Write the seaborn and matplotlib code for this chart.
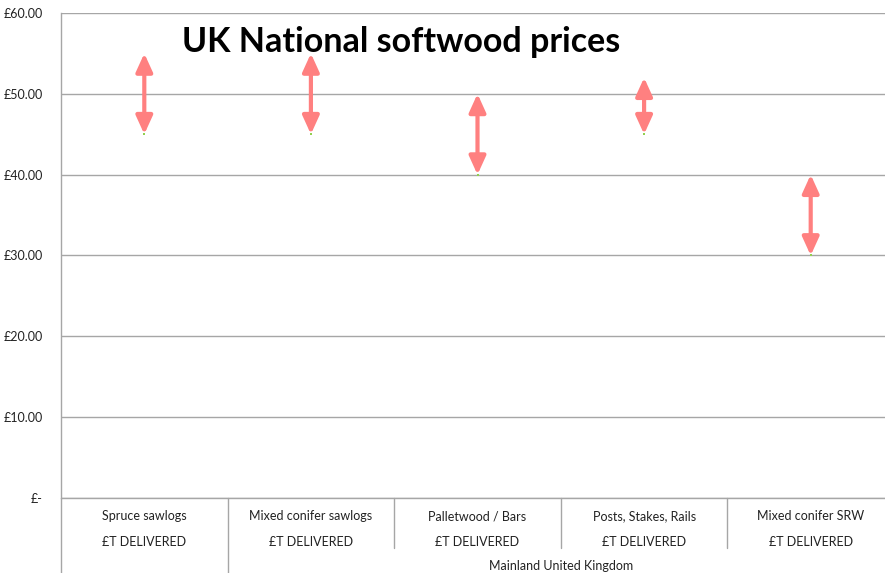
import numpy as np
import pandas as pd
import seaborn as sns
import matplotlib
matplotlib.use('Agg')
import matplotlib.pyplot as plt
from matplotlib.ticker import FuncFormatter

# data
categories = ['Spruce sawlogs', 'Mixed conifer sawlogs', 'Palletwood / Bars',
              'Posts, Stakes, Rails', 'Mixed conifer SRW']
price_low = [45, 45, 40, 45, 30]
price_high = [55, 55, 50, 52, 40]
unit_labels = ['£T DELIVERED'] * 5
region_label = 'Mainland United Kingdom'
y_ticks = [0, 10, 20, 30, 40, 50, 60]

sns.set_style('white')
plt.rcParams['font.family'] = ['Lato', 'DejaVu Sans']

df = pd.DataFrame({'cat': categories, 'pos': np.arange(len(categories)),
                   'low': price_low, 'high': price_high})

fig = plt.figure(figsize=(8.85, 5.73), dpi=100)
ax = fig.add_axes([61 / 885, 75 / 573, 833 / 885, 485 / 573])

# gridlines
ax.set_ylim(0, 60)
ax.set_xlim(-0.5, len(categories) - 0.5)
ax.set_yticks(y_ticks)
ax.yaxis.grid(True, color='#a6a6a6', lw=1)
ax.set_axisbelow(True)
for s in ['top', 'right', 'bottom']:
    ax.spines[s].set_visible(False)
ax.spines['left'].set_color('#a6a6a6')
ax.spines['left'].set_linewidth(1)

# price range arrows
for _, r in df.iterrows():
    ax.annotate('', xy=(r['pos'], r['high']), xytext=(r['pos'], r['low']),
                arrowprops=dict(arrowstyle='<|-|>,head_length=1.1,head_width=0.5',
                                lw=3, color='#ff8080', shrinkA=0, shrinkB=0,
                                mutation_scale=10))
sns.scatterplot(data=df, x='pos', y='low', ax=ax, color='#92d050', marker='s',
                s=4, linewidth=0, zorder=5, legend=False)

ax.yaxis.set_major_formatter(FuncFormatter(lambda v, p: '£-' if v == 0 else '£%.2f' % v))
ax.tick_params(axis='y', length=0, pad=13, labelsize=9, labelcolor='#222222')
ax.set_xticks([])
ax.set_xlabel('')
ax.set_ylabel('')

# multi-level category axis
xt = ax.get_xaxis_transform()
for i, (c, u) in enumerate(zip(categories, unit_labels)):
    ax.text(i, -0.038, c, transform=xt, ha='center', va='center', fontsize=9, color='#222222')
    ax.text(i, -0.091, u, transform=xt, ha='center', va='center', fontsize=9, color='#222222')
for i in range(1, len(categories)):
    bottom = -0.155 if i == 1 else -0.103
    ax.plot([i - 0.5, i - 0.5], [0, bottom], transform=xt, color='#a6a6a6', lw=1, clip_on=False)
ax.plot([-0.5, -0.5], [0, -0.155], transform=xt, color='#a6a6a6', lw=1, clip_on=False)
ax.plot([-0.5, len(categories) - 0.5], [0, 0], transform=xt, color='#a6a6a6', lw=1, clip_on=False)
ax.text((0.5 + len(categories) - 0.5) / 2, -0.14, region_label, transform=xt,
        ha='center', va='center', fontsize=9, color='#222222')

ax.text(0.145, 0.94, 'UK National softwood prices', transform=ax.transAxes,
        ha='left', va='center', fontsize=24.5, fontweight='bold', color='black')

fig.savefig('out.png', dpi=100)
